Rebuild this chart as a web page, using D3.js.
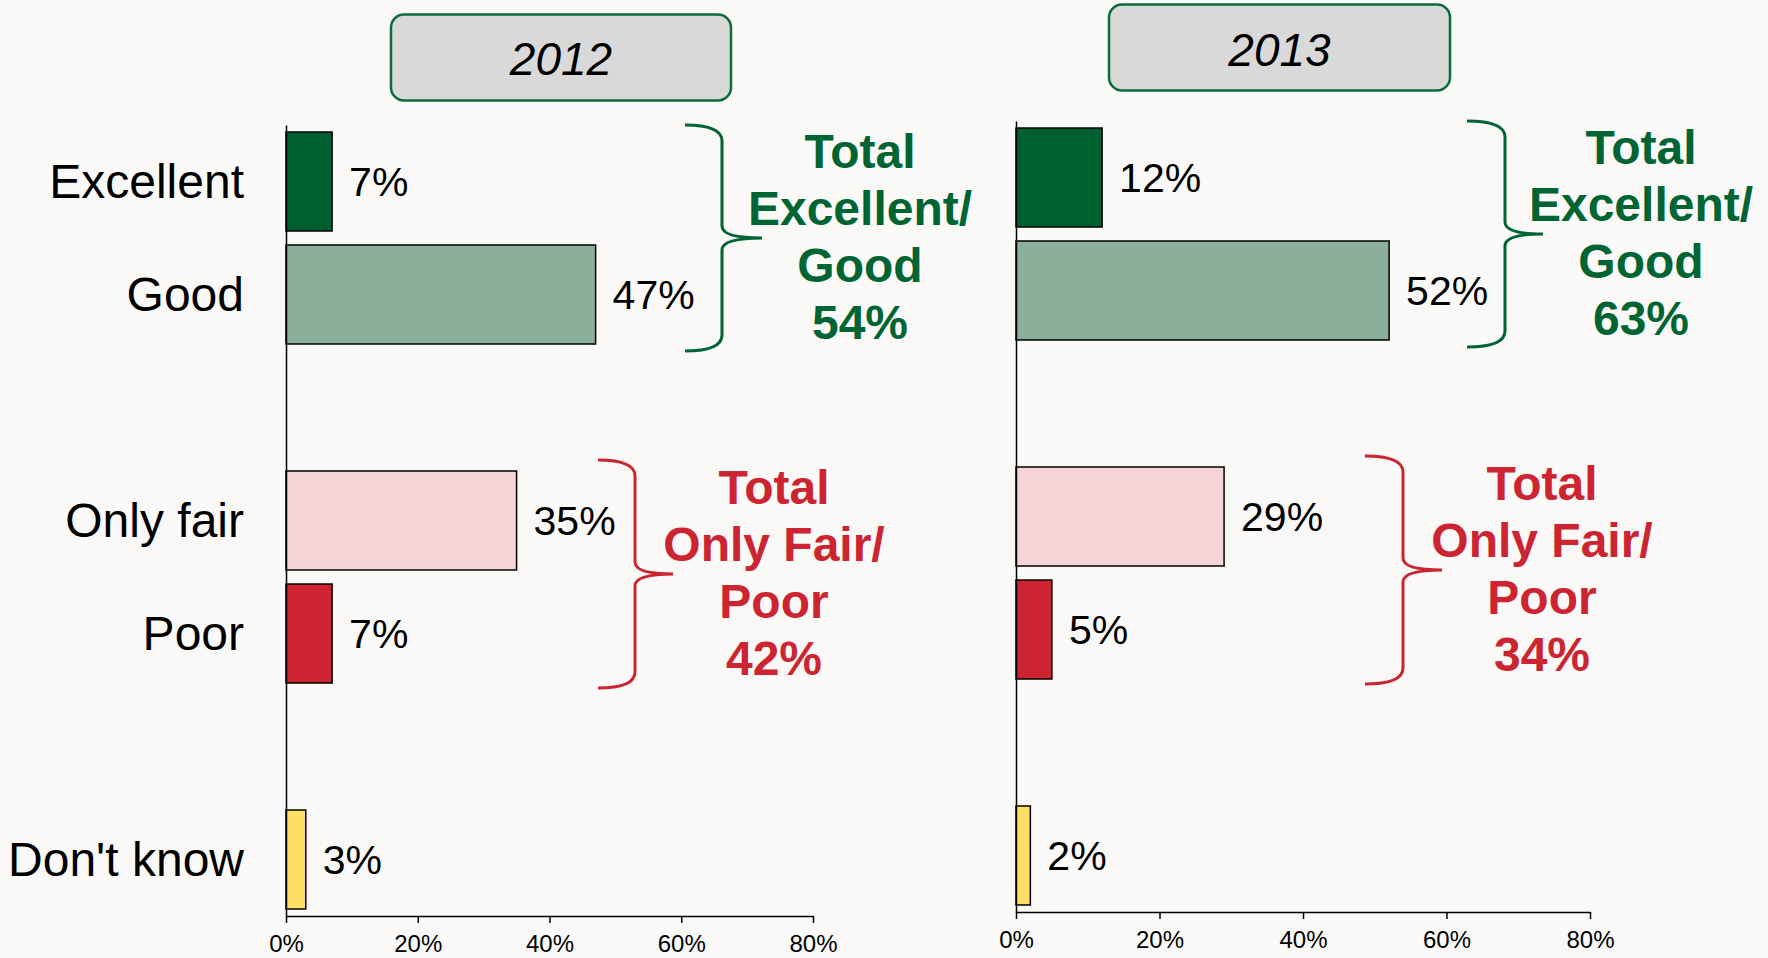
<!DOCTYPE html>
<html>
<head>
<meta charset="utf-8">
<script src="https://cdn.jsdelivr.net/npm/d3@7"></script>
<style>
	body { margin: 0; background: #faf9f7; }
	svg { display: block; font-family: "Liberation Sans", Arial, sans-serif; }
</style>
</head>
<body>
<div id="chart"></div>
<script>
// answers, with two empty rows used as gaps between groups
const rows = ["Excellent", "Good", "gap1", "Only fair", "Poor", "gap2", "Don't know"];
const answers = ["Excellent", "Good", "Only fair", "Poor", "Don't know"];
const values2012 = [7, 47, 35, 7, 3];
const values2013 = [12, 52, 29, 5, 2];
const years = ["2012", "2013"];
const totalGood = [54, 63];
const totalFair = [42, 34];
const ticks = [0, 20, 40, 60, 80];
const barColors = ["#005f2f", "#8aaf9b", "#f5d3d7", "#cd2431", "#ffe066"];

const green = "#006433";
const red = "#cd2431";

const W = 1768, H = 958;

const svg = d3
	.select("#chart")
	.append("svg")
	.attr("width", W)
	.attr("height", H);

svg.append("rect").attr("width", W).attr("height", H).attr("fill", "#faf9f7");

// layout of the two panels
const panels = [
	{
		values: values2012, year: years[0], good: totalGood[0], fair: totalFair[0],
		x0: 286, x1: 813, y0: 125, y1: 916,
		box: { x: 391, y: 14.5, w: 340, h: 86, ty: 75 },
		labels: true,
		braceGood: { xl: 685, xv: 722, xt: 762, tx: 860 },
		braceFair: { xl: 598, xv: 635, xt: 673, tx: 774 }
	},
	{
		values: values2013, year: years[1], good: totalGood[1], fair: totalFair[1],
		x0: 1016, x1: 1590, y0: 121, y1: 912,
		box: { x: 1109, y: 4.5, w: 341, h: 86, ty: 66 },
		labels: false,
		braceGood: { xl: 1467, xv: 1505, xt: 1543, tx: 1641 },
		braceFair: { xl: 1365, xv: 1403, xt: 1442, tx: 1542 }
	}
];

function brace(b, top, bot) {
	const tip = (top + bot) / 2;
	const r = 16;
	const t = 12;
	return `M${b.xl},${top} Q${b.xv},${top} ${b.xv},${top + r} L${b.xv},${tip - t} Q${b.xv},${tip} ${b.xt},${tip}` +
		` Q${b.xv},${tip} ${b.xv},${tip + t} L${b.xv},${bot - r} Q${b.xv},${bot} ${b.xl},${bot}`;
}

panels.forEach(p => {
	const data = answers.map((a, i) => ({ answer: a, value: p.values[i], color: barColors[i] }));

	const x = d3.scaleLinear().domain([0, 80]).range([p.x0, p.x1]);
	const y = d3
		.scaleBand()
		.domain(rows)
		.range([p.y0, p.y1])
		.paddingInner(0.124)
		.paddingOuter(0.062);

	// header box
	svg
		.append("rect")
		.attr("x", p.box.x)
		.attr("y", p.box.y)
		.attr("width", p.box.w)
		.attr("height", p.box.h)
		.attr("rx", 13)
		.attr("fill", "#d9d9d9")
		.attr("stroke", "#0b6b3a")
		.attr("stroke-width", 2.5);

	svg
		.append("text")
		.attr("x", p.box.x + p.box.w / 2)
		.attr("y", p.box.ty)
		.attr("text-anchor", "middle")
		.style("font-size", "46px")
		.style("font-style", "italic")
		.style("fill", "#000")
		.text(p.year);

	// bars
	svg
		.selectAll(null)
		.data(data)
		.enter()
		.append("rect")
		.attr("x", x(0))
		.attr("y", d => y(d.answer))
		.attr("width", d => x(d.value) - x(0))
		.attr("height", y.bandwidth())
		.attr("fill", d => d.color)
		.attr("stroke", "#000")
		.attr("stroke-width", 1.5);

	// value labels
	svg
		.selectAll(null)
		.data(data)
		.enter()
		.append("text")
		.attr("x", d => x(d.value) + 17)
		.attr("y", d => y(d.answer) + y.bandwidth() / 2)
		.attr("dy", "0.36em")
		.style("font-size", "41px")
		.style("fill", "#000")
		.text(d => d.value + "%");

	// x axis
	const xAxis = svg
		.append("g")
		.attr("transform", `translate(0,${p.y1})`)
		.call(
			d3.axisBottom(x)
				.tickValues(ticks)
				.tickSize(7)
				.tickSizeOuter(0)
				.tickPadding(12)
				.tickFormat(d => d + "%")
		);
	xAxis.select(".domain").attr("stroke", "#000").attr("stroke-width", 1.5);
	xAxis.selectAll(".tick line").attr("stroke", "#000").attr("stroke-width", 1.5);
	xAxis
		.selectAll("text")
		.style("font-family", "Liberation Sans, Arial, sans-serif")
		.style("font-size", "24px")
		.style("fill", "#000");

	// y axis
	const yAxis = svg
		.append("g")
		.attr("transform", `translate(${x(0)},0)`)
		.call(
			d3.axisLeft(y)
				.tickSize(0)
				.tickSizeOuter(0)
				.tickPadding(42)
				.tickFormat(d => (p.labels && !d.startsWith("gap") ? d : ""))
		);
	yAxis.select(".domain").attr("stroke", "#000").attr("stroke-width", 1.5);
	yAxis
		.selectAll("text")
		.attr("dy", "0.35em")
		.style("font-family", "Liberation Sans, Arial, sans-serif")
		.style("font-size", "48px")
		.style("fill", "#000");

	// braces + totals
	const half = (y.step() - y.bandwidth()) / 2;
	const groups = [
		{ b: p.braceGood, top: y("Excellent") - half, bot: y("Good") + y.bandwidth() + half,
			color: green, lines: ["Total", "Excellent/", "Good", p.good + "%"] },
		{ b: p.braceFair, top: y("Only fair") - half - 4, bot: y("Poor") + y.bandwidth() + half - 2,
			color: red, lines: ["Total", "Only Fair/", "Poor", p.fair + "%"] }
	];

	groups.forEach(g => {
		svg
			.append("path")
			.attr("d", brace(g.b, g.top, g.bot))
			.attr("fill", "none")
			.attr("stroke", g.color)
			.attr("stroke-width", 3);

		const mid = (g.top + g.bot) / 2 + 15;
		svg
			.append("text")
			.attr("text-anchor", "middle")
			.style("font-size", "48px")
			.style("font-weight", 700)
			.style("fill", g.color)
			.selectAll("tspan")
			.data(g.lines)
			.enter()
			.append("tspan")
			.attr("x", g.b.tx)
			.attr("y", (d, i) => mid - 85.5 + i * 57)
			.text(d => d);
	});
});
</script>
</body>
</html>
